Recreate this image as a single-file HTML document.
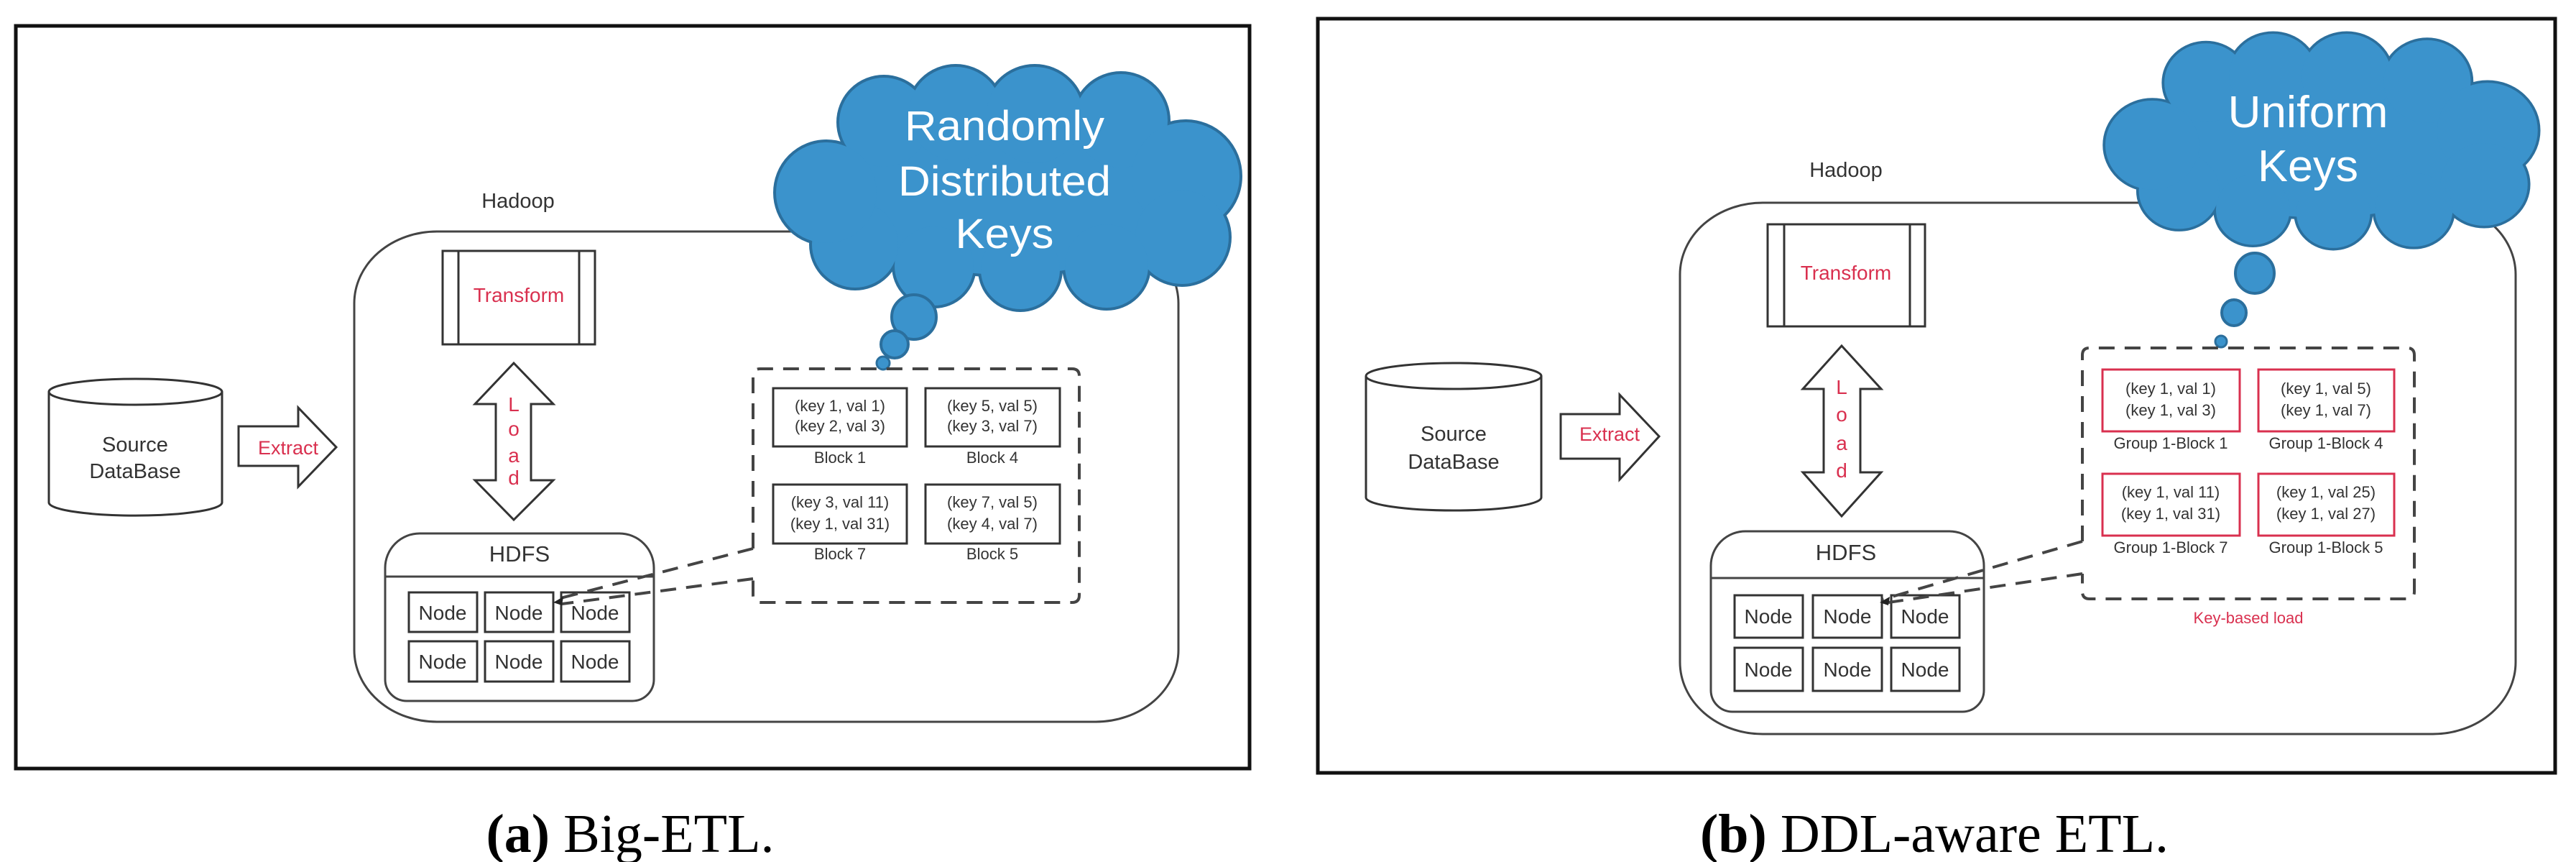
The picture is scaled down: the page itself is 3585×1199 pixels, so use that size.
<!DOCTYPE html>
<html><head><meta charset="utf-8"><style>
html,body{margin:0;padding:0;background:#fff;}
svg{display:block;}
text{font-family:"Liberation Sans",sans-serif;}
</style></head><body>
<svg width="3585" height="1199" viewBox="0 0 3585 1199" xmlns="http://www.w3.org/2000/svg">

<!-- ============ LEFT PANEL ============ -->
<rect x="22" y="36" width="1717" height="1033" fill="none" stroke="#111" stroke-width="5"/>
<text x="877" y="1185" text-anchor="middle" font-size="76" style="font-family:'Liberation Serif',serif"><tspan font-weight="bold">(a)</tspan> Big-ETL.</text>

<text x="721" y="289" text-anchor="middle" font-size="29" fill="#333">Hadoop</text>
<rect x="493" y="322" width="1147" height="682" rx="115" ry="100" fill="none" stroke="#444" stroke-width="3"/>

<!-- cloud left -->
<g>
<g fill="#2b6f9d" stroke="#2b6f9d" stroke-width="8">
<ellipse cx="1402" cy="262" rx="250" ry="120"/>
<circle cx="1230" cy="170" r="62"/><circle cx="1330" cy="158" r="65"/><circle cx="1440" cy="160" r="67"/><circle cx="1560" cy="168" r="65"/>
<circle cx="1650" cy="245" r="75"/><circle cx="1645" cy="330" r="65"/>
<circle cx="1540" cy="370" r="58"/><circle cx="1420" cy="375" r="55"/><circle cx="1300" cy="370" r="55"/><circle cx="1190" cy="340" r="60"/>
<circle cx="1150" cy="268" r="70"/>
</g>
<g fill="#3b93cc">
<ellipse cx="1402" cy="262" rx="250" ry="120"/>
<circle cx="1230" cy="170" r="62"/><circle cx="1330" cy="158" r="65"/><circle cx="1440" cy="160" r="67"/><circle cx="1560" cy="168" r="65"/>
<circle cx="1650" cy="245" r="75"/><circle cx="1645" cy="330" r="65"/>
<circle cx="1540" cy="370" r="58"/><circle cx="1420" cy="375" r="55"/><circle cx="1300" cy="370" r="55"/><circle cx="1190" cy="340" r="60"/>
<circle cx="1150" cy="268" r="70"/>
</g>
</g>
<circle cx="1272" cy="441" r="31" fill="#3b93cc" stroke="#2b6f9d" stroke-width="4"/>
<circle cx="1245" cy="479" r="19" fill="#3b93cc" stroke="#2b6f9d" stroke-width="4"/>
<circle cx="1229" cy="505" r="9" fill="#3b93cc" stroke="#2b6f9d" stroke-width="3"/>
<g fill="#fff" font-size="58" text-anchor="middle">
<text x="1398" y="195" textLength="278" lengthAdjust="spacingAndGlyphs">Randomly</text>
<text x="1398" y="272" textLength="296" lengthAdjust="spacingAndGlyphs">Distributed</text>
<text x="1398" y="345" textLength="137" lengthAdjust="spacingAndGlyphs">Keys</text>
</g>

<!-- transform -->
<rect x="616" y="349" width="212" height="130" fill="#fff" stroke="#333" stroke-width="3"/>
<line x1="638" y1="349" x2="638" y2="479" stroke="#333" stroke-width="3"/>
<line x1="806" y1="349" x2="806" y2="479" stroke="#333" stroke-width="3"/>
<text x="722" y="420" text-anchor="middle" font-size="28" fill="#d9304f">Transform</text>

<polygon points="715,505 770,562 739,562 739,668 770,668 715,723 661,668 690,668 690,562 661,562" fill="#fff" stroke="#333" stroke-width="3"/>
<g fill="#d9304f" font-size="28" text-anchor="middle"><text x="715" y="572">L</text><text x="715" y="606">o</text><text x="715" y="643">a</text><text x="715" y="674">d</text></g>

<path d="M68,545 L68,699 A120,18 0 0 0 309,699 L309,545" fill="#fff" stroke="#333" stroke-width="3"/>
<ellipse cx="188.5" cy="545" rx="120.5" ry="18" fill="#fff" stroke="#333" stroke-width="3"/>
<text x="188" y="628" text-anchor="middle" font-size="29" fill="#333">Source</text>
<text x="188" y="665" text-anchor="middle" font-size="29" fill="#333">DataBase</text>

<polygon points="332,593 415,593 415,567 468,622 415,677 415,648 332,648" fill="#fff" stroke="#333" stroke-width="3"/>
<text x="401" y="632" text-anchor="middle" font-size="27" fill="#d9304f">Extract</text>

<path d="M536,802 L536,945 A30,30 0 0 0 566,975 L880,975 A30,30 0 0 0 910,945 L910,802" fill="#fff" stroke="#444" stroke-width="3"/>
<path d="M536,802 L536,790 A48,48 0 0 1 584,742 L862,742 A48,48 0 0 1 910,790 L910,802 Z" fill="#fff" stroke="#444" stroke-width="3"/>
<text x="723" y="781" text-anchor="middle" font-size="31" fill="#333">HDFS</text>
<g fill="#fff" stroke="#333" stroke-width="3">
<rect x="569" y="824" width="95" height="55"/><rect x="675" y="824" width="95" height="55"/><rect x="781" y="824" width="95" height="55"/>
<rect x="569" y="892" width="95" height="56"/><rect x="675" y="892" width="95" height="56"/><rect x="781" y="892" width="95" height="56"/>
</g>
<g font-size="28" fill="#333" text-anchor="middle">
<text x="616" y="862">Node</text><text x="722" y="862">Node</text><text x="828" y="862">Node</text>
<text x="616" y="930">Node</text><text x="722" y="930">Node</text><text x="828" y="930">Node</text>
</g>

<path d="M1048,763 L1048,523 Q1048,513 1058,513 L1492,513 Q1502,513 1502,523 L1502,828 Q1502,838 1492,838 L1058,838 Q1048,838 1048,828 L1048,805" fill="none" stroke="#444" stroke-width="4" stroke-dasharray="22,14"/>
<line x1="1048" y1="763" x2="772" y2="834" stroke="#444" stroke-width="4" stroke-dasharray="22,14"/>
<line x1="1048" y1="805" x2="782" y2="840" stroke="#444" stroke-width="4" stroke-dasharray="22,14"/>
<polygon points="770,838 784,830 782,842" fill="#222"/>
<g fill="#fff" stroke="#333" stroke-width="3">
<rect x="1076" y="540" width="186" height="81"/><rect x="1288" y="540" width="187" height="81"/>
<rect x="1076" y="674" width="186" height="82"/><rect x="1288" y="674" width="187" height="82"/>
</g>
<g font-size="22" fill="#333" text-anchor="middle">
<text x="1169" y="572">(key 1, val 1)</text><text x="1169" y="600">(key 2, val 3)</text>
<text x="1381" y="572">(key 5, val 5)</text><text x="1381" y="600">(key 3, val 7)</text>
<text x="1169" y="706">(key 3, val 11)</text><text x="1169" y="736">(key 1, val 31)</text>
<text x="1381" y="706">(key 7, val 5)</text><text x="1381" y="736">(key 4, val 7)</text>
<text x="1169" y="644">Block 1</text><text x="1381" y="644">Block 4</text>
<text x="1169" y="778">Block 7</text><text x="1381" y="778">Block 5</text>
</g>

<!-- ============ RIGHT PANEL ============ -->
<rect x="1834" y="26" width="1722" height="1049" fill="none" stroke="#111" stroke-width="5"/>
<text x="2692" y="1185" text-anchor="middle" font-size="76" style="font-family:'Liberation Serif',serif"><tspan font-weight="bold">(b)</tspan> DDL-aware ETL.</text>

<text x="2569" y="246" text-anchor="middle" font-size="29" fill="#333">Hadoop</text>
<rect x="2338" y="282" width="1163" height="739" rx="115" ry="100" fill="none" stroke="#444" stroke-width="3"/>

<g transform="translate(2930,47) scale(0.933,0.884) translate(-1080,-93)">
<g fill="#2b6f9d" stroke="#2b6f9d" stroke-width="8">
<ellipse cx="1402" cy="262" rx="250" ry="120"/>
<circle cx="1230" cy="170" r="62"/><circle cx="1330" cy="158" r="65"/><circle cx="1440" cy="160" r="67"/><circle cx="1560" cy="168" r="65"/>
<circle cx="1650" cy="245" r="75"/><circle cx="1645" cy="330" r="65"/>
<circle cx="1540" cy="370" r="58"/><circle cx="1420" cy="375" r="55"/><circle cx="1300" cy="370" r="55"/><circle cx="1190" cy="340" r="60"/>
<circle cx="1150" cy="268" r="70"/>
</g>
<g fill="#3b93cc">
<ellipse cx="1402" cy="262" rx="250" ry="120"/>
<circle cx="1230" cy="170" r="62"/><circle cx="1330" cy="158" r="65"/><circle cx="1440" cy="160" r="67"/><circle cx="1560" cy="168" r="65"/>
<circle cx="1650" cy="245" r="75"/><circle cx="1645" cy="330" r="65"/>
<circle cx="1540" cy="370" r="58"/><circle cx="1420" cy="375" r="55"/><circle cx="1300" cy="370" r="55"/><circle cx="1190" cy="340" r="60"/>
<circle cx="1150" cy="268" r="70"/>
</g>
</g>
<ellipse cx="3138" cy="380" rx="27" ry="28" fill="#3b93cc" stroke="#2b6f9d" stroke-width="4"/>
<ellipse cx="3109" cy="435" rx="17" ry="18" fill="#3b93cc" stroke="#2b6f9d" stroke-width="4"/>
<circle cx="3091" cy="475" r="8" fill="#3b93cc" stroke="#2b6f9d" stroke-width="3"/>
<g fill="#fff" font-size="62" text-anchor="middle">
<text x="3212" y="177" textLength="223" lengthAdjust="spacingAndGlyphs">Uniform</text>
<text x="3212" y="252" textLength="140" lengthAdjust="spacingAndGlyphs">Keys</text>
</g>

<rect x="2460" y="312" width="219" height="142" fill="#fff" stroke="#333" stroke-width="3"/>
<line x1="2483" y1="312" x2="2483" y2="454" stroke="#333" stroke-width="3"/>
<line x1="2658" y1="312" x2="2658" y2="454" stroke="#333" stroke-width="3"/>
<text x="2569" y="389" text-anchor="middle" font-size="28" fill="#d9304f">Transform</text>

<polygon points="2563,481 2618,541 2589,541 2589,657 2618,657 2563,718 2509,657 2538,657 2538,541 2509,541" fill="#fff" stroke="#333" stroke-width="3"/>
<g fill="#d9304f" font-size="28" text-anchor="middle"><text x="2563" y="548">L</text><text x="2563" y="586">o</text><text x="2563" y="626">a</text><text x="2563" y="664">d</text></g>

<path d="M1901,523 L1901,692 A122,18 0 0 0 2145,692 L2145,523" fill="#fff" stroke="#333" stroke-width="3"/>
<ellipse cx="2023" cy="523" rx="122" ry="18" fill="#fff" stroke="#333" stroke-width="3"/>
<text x="2023" y="613" text-anchor="middle" font-size="29" fill="#333">Source</text>
<text x="2023" y="652" text-anchor="middle" font-size="29" fill="#333">DataBase</text>

<polygon points="2172,576 2254,576 2254,549 2309,607 2254,667 2254,638 2172,638" fill="#fff" stroke="#333" stroke-width="3"/>
<text x="2240" y="613" text-anchor="middle" font-size="27" fill="#d9304f">Extract</text>

<path d="M2381,804 L2381,960 A30,30 0 0 0 2411,990 L2731,990 A30,30 0 0 0 2761,960 L2761,804" fill="#fff" stroke="#444" stroke-width="3"/>
<path d="M2381,804 L2381,787 A48,48 0 0 1 2429,739 L2713,739 A48,48 0 0 1 2761,787 L2761,804 Z" fill="#fff" stroke="#444" stroke-width="3"/>
<text x="2569" y="779" text-anchor="middle" font-size="31" fill="#333">HDFS</text>
<g fill="#fff" stroke="#333" stroke-width="3">
<rect x="2414" y="828" width="95" height="59"/><rect x="2523" y="828" width="96" height="59"/><rect x="2632" y="828" width="95" height="59"/>
<rect x="2414" y="901" width="95" height="60"/><rect x="2523" y="901" width="96" height="60"/><rect x="2632" y="901" width="95" height="60"/>
</g>
<g font-size="28" fill="#333" text-anchor="middle">
<text x="2461" y="867">Node</text><text x="2571" y="867">Node</text><text x="2679" y="867">Node</text>
<text x="2461" y="941">Node</text><text x="2571" y="941">Node</text><text x="2679" y="941">Node</text>
</g>

<path d="M2898,753 L2898,494 Q2898,484 2908,484 L3350,484 Q3360,484 3360,494 L3360,823 Q3360,833 3350,833 L2908,833 Q2898,833 2898,823 L2898,798" fill="none" stroke="#444" stroke-width="4" stroke-dasharray="22,14"/>
<line x1="2898" y1="753" x2="2619" y2="834" stroke="#444" stroke-width="4" stroke-dasharray="22,14"/>
<line x1="2898" y1="798" x2="2628" y2="838" stroke="#444" stroke-width="4" stroke-dasharray="22,14"/>
<polygon points="2616,838 2630,830 2628,842" fill="#222"/>
<g fill="#fff" stroke="#d9304f" stroke-width="3">
<rect x="2926" y="514" width="191" height="86"/><rect x="3143" y="514" width="189" height="86"/>
<rect x="2926" y="659" width="191" height="86"/><rect x="3143" y="659" width="189" height="86"/>
</g>
<g font-size="22" fill="#333" text-anchor="middle">
<text x="3021" y="548">(key 1, val 1)</text><text x="3021" y="578">(key 1, val 3)</text>
<text x="3237" y="548">(key 1, val 5)</text><text x="3237" y="578">(key 1, val 7)</text>
<text x="3021" y="692">(key 1, val 11)</text><text x="3021" y="722">(key 1, val 31)</text>
<text x="3237" y="692">(key 1, val 25)</text><text x="3237" y="722">(key 1, val 27)</text>
<text x="3021" y="624">Group 1-Block 1</text><text x="3237" y="624">Group 1-Block 4</text>
<text x="3021" y="769">Group 1-Block 7</text><text x="3237" y="769">Group 1-Block 5</text>
</g>
<text x="3129" y="867" text-anchor="middle" font-size="22" fill="#d9304f">Key-based load</text>
</svg>
</body></html>
